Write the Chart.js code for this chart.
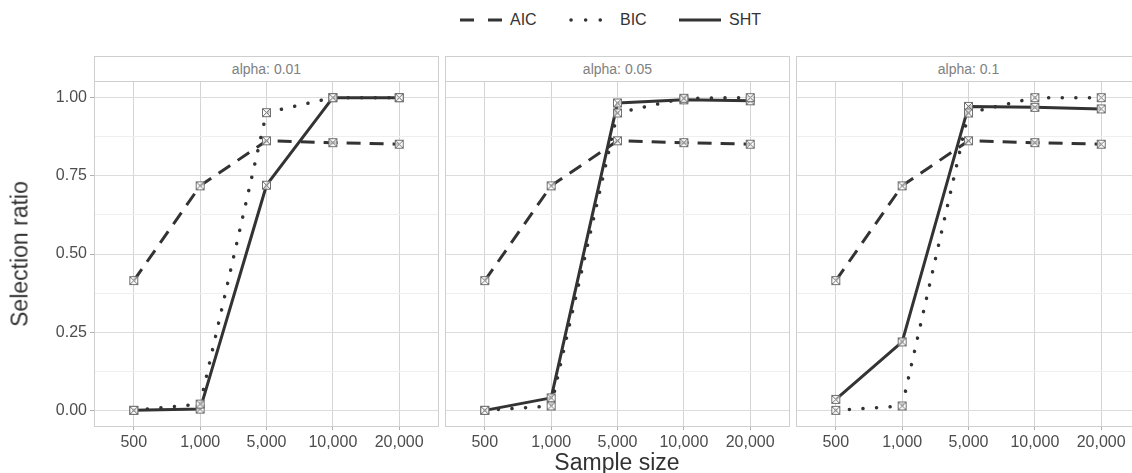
<!DOCTYPE html>
<html>
<head>
<meta charset="utf-8">
<script src="https://cdn.jsdelivr.net/npm/chart.js@4.4.1/dist/chart.umd.min.js"></script>
<style>
  html, body { margin:0; padding:0; width:1132px; height:473px; overflow:hidden; background:#fff; font-family:"Liberation Sans", Arial, sans-serif; }
  .abs { position:absolute; }
  .strip { position:absolute; top:56px; height:26px; width:345px; box-sizing:border-box; border:1px solid #cfcfcf; color:#808080; font-size:14px; line-height:24px; text-align:center; background:#fff; }
  .frame { position:absolute; top:82px; height:345px; width:345px; box-sizing:border-box; border:1px solid #cfcfcf; border-top:none; pointer-events:none; }
  .leg { position:absolute; top:10px; font-size:16px; color:#333; line-height:20px; }
</style>
</head>
<body>
<script>
// ---- data ----
const sampleSizes = ['500', '1,000', '5,000', '10,000', '20,000'];
const panelTitles = ['alpha: 0.01', 'alpha: 0.05', 'alpha: 0.1'];
const seriesNames = ['AIC', 'BIC', 'SHT'];
const yTickValues = [0, 0.25, 0.5, 0.75, 1];
const yMinorValues = [0.125, 0.375, 0.625, 0.875];

const aic001 = [0.415, 0.718, 0.862, 0.856, 0.851];
const bic001 = [0.000, 0.020, 0.952, 1.000, 1.000];
const sht001 = [0.000, 0.004, 0.720, 1.000, 1.000];

const aic005 = [0.415, 0.718, 0.862, 0.856, 0.851];
const bic005 = [0.000, 0.014, 0.951, 0.998, 1.000];
const sht005 = [0.000, 0.040, 0.983, 0.993, 0.990];

const aic010 = [0.415, 0.718, 0.862, 0.856, 0.851];
const bic010 = [0.000, 0.014, 0.951, 1.000, 1.000];
const sht010 = [0.035, 0.219, 0.972, 0.969, 0.964];

const panelData = [
  [aic001, bic001, sht001],
  [aic005, bic005, sht005],
  [aic010, bic010, sht010]
];

// ---- styling ----
const panelLeft = [94, 445, 796];
const panelW = 345;
const plotTop = 82, plotH = 344;
const lineColor = '#333333';
const styles = [
  { borderDash: [14, 9], borderCapStyle: 'butt', borderWidth: 3 },
  { borderDash: [0.1, 13.5], borderCapStyle: 'round', borderWidth: 3.5 },
  { borderDash: [], borderCapStyle: 'butt', borderWidth: 3 }
];

// marker: square with X
const mk = document.createElement('canvas');
mk.width = 11; mk.height = 11;
(function(){
  const c = mk.getContext('2d');
  c.fillStyle = 'rgba(255,255,255,0.75)';
  c.fillRect(1, 1, 9, 9);
  c.strokeStyle = '#707070';
  c.lineWidth = 1;
  c.strokeRect(1.5, 1.5, 8, 8);
  c.beginPath();
  c.moveTo(2, 2); c.lineTo(9, 9);
  c.moveTo(9, 2); c.lineTo(2, 9);
  c.stroke();
})();

const fontFam = '"Liberation Sans", Arial, sans-serif';

function buildChart(idx) {
  const first = idx === 0;
  const canvasLeft = first ? 0 : panelLeft[idx];
  const canvasW = first ? panelLeft[0] + panelW : panelW;
  const canvasH = 473 - plotTop;
  const cv = document.createElement('canvas');
  cv.width = canvasW; cv.height = canvasH;
  cv.style.position = 'absolute';
  cv.style.left = canvasLeft + 'px';
  cv.style.top = plotTop + 'px';
  document.body.appendChild(cv);

  const datasets = panelData[idx].map((vals, s) => ({
    label: seriesNames[s],
    data: vals.map((v, i) => ({ x: i, y: v })),
    borderColor: lineColor,
    backgroundColor: lineColor,
    borderWidth: styles[s].borderWidth,
    borderDash: styles[s].borderDash,
    borderCapStyle: styles[s].borderCapStyle,
    borderJoinStyle: 'round',
    pointStyle: mk,
    pointRadius: 5,
    tension: 0
  }));

  new Chart(cv, {
    type: 'line',
    data: { datasets },
    options: {
      responsive: false,
      animation: false,
      events: [],
      layout: { autoPadding: false, padding: { left: 0, right: 0, top: 0, bottom: 0 } },
      plugins: { legend: { display: false }, tooltip: { enabled: false }, title: { display: false } },
      scales: {
        x: {
          type: 'linear',
          min: -0.6, max: 4.6,
          afterBuildTicks: (sc) => { sc.ticks = sampleSizes.map((_, i) => ({ value: i })); },
          afterFit: (sc) => { sc.height = canvasH - plotH; sc.paddingLeft = 0; sc.paddingRight = 0; },
          ticks: {
            callback: (v) => sampleSizes[v],
            color: '#4d4d4d',
            font: { family: fontFam, size: 16 },
            padding: 3,
            maxRotation: 0, autoSkip: false
          },
          grid: { color: '#d4d4d4', lineWidth: 1, tickLength: 4, tickColor: '#b0b0b0', drawTicks: true },
          border: { display: false }
        },
        y: {
          type: 'linear',
          min: -0.05, max: 1.05,
          afterBuildTicks: (sc) => {
            sc.ticks = yTickValues.concat(yMinorValues).sort((a, b) => a - b).map(v => ({ value: v }));
          },
          afterFit: (sc) => { sc.width = first ? panelLeft[0] : 0; sc.paddingTop = 0; sc.paddingBottom = 0; },
          ticks: {
            display: first,
            callback: (v) => (yTickValues.includes(v) ? v.toFixed(2) : ''),
            color: '#4d4d4d',
            font: { family: fontFam, size: 16 },
            padding: 3
          },
          grid: {
            color: (c) => (yTickValues.includes(c.tick.value) ? '#dcdcdc' : '#efefef'),
            lineWidth: 1,
            drawTicks: first,
            tickLength: 4,
            tickColor: (c) => (yTickValues.includes(c.tick.value) ? '#b0b0b0' : 'rgba(0,0,0,0)')
          },
          border: { display: false }
        }
      }
    }
  });

  const strip = document.createElement('div');
  strip.className = 'strip';
  strip.style.left = panelLeft[idx] + 'px';
  strip.textContent = panelTitles[idx];
  document.body.appendChild(strip);

  const frame = document.createElement('div');
  frame.className = 'frame';
  frame.style.left = panelLeft[idx] + 'px';
  document.body.appendChild(frame);
}

for (let i = 0; i < 3; i++) buildChart(i);
</script>

<!-- legend -->
<svg class="abs" style="left:0;top:0" width="1132" height="40">
  <line x1="460" y1="20" x2="503" y2="20" stroke="#333" stroke-width="3" stroke-dasharray="14 14"/>
  <line x1="571" y1="20" x2="601" y2="20" stroke="#333" stroke-width="3.5" stroke-linecap="round" stroke-dasharray="0.1 14.5"/>
  <line x1="679" y1="20" x2="721" y2="20" stroke="#333" stroke-width="3"/>
</svg>
<div class="leg" style="left:510px">AIC</div>
<div class="leg" style="left:620px">BIC</div>
<div class="leg" style="left:729px">SHT</div>

<!-- axis titles -->
<div class="abs" style="left:617px;top:462px;transform:translate(-50%,-50%);font-size:23px;color:#333;white-space:nowrap;">Sample size</div>
<div class="abs" style="left:20px;top:254px;transform:translate(-50%,-50%) rotate(-90deg);font-size:23px;color:#333;white-space:nowrap;">Selection ratio</div>
</body>
</html>
